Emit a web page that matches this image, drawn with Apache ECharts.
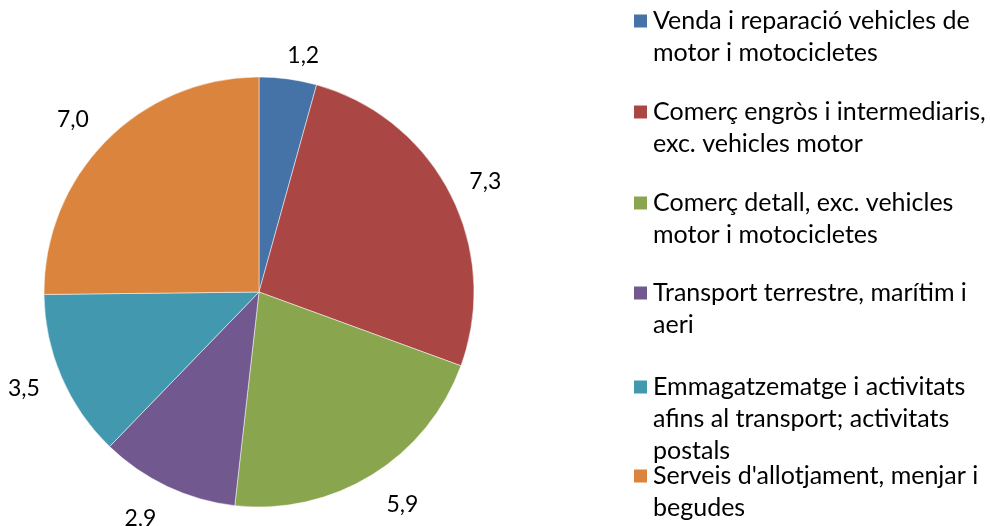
<!DOCTYPE html>
<html>
<head>
<meta charset="utf-8">
<script src="https://cdn.jsdelivr.net/npm/echarts@6/dist/echarts.min.js"></script>
<style>html,body{margin:0;padding:0;background:#fff;}#c{width:990px;height:526px;}</style>
</head>
<body>
<div id="c"></div>
<script>
const categories = [
  "Venda i reparació vehicles de motor i motocicletes",
  "Comerç engròs i intermediaris, exc. vehicles motor",
  "Comerç detall, exc. vehicles motor i motocicletes",
  "Transport terrestre, marítim i aeri",
  "Emmagatzematge i activitats afins al transport; activitats postals",
  "Serveis d'allotjament, menjar i begudes"
];
const legendLines = [
  ["Venda i reparació vehicles de", "motor i motocicletes"],
  ["Comerç engròs i intermediaris,", "exc. vehicles motor"],
  ["Comerç detall, exc. vehicles", "motor i motocicletes"],
  ["Transport terrestre, marítim i", "aeri"],
  ["Emmagatzematge i activitats", "afins al transport; activitats", "postals"],
  ["Serveis d'allotjament, menjar i", "begudes"]
];
const values = [1.2, 7.3, 5.9, 2.9, 3.5, 7.0];
const colors = ["#4572A7", "#AA4643", "#89A54E", "#71588F", "#4198AF", "#DB843D"];

const FONT = "Lato";
const LH = 32;
const legendTops = [4, 95, 186, 276, 370, 459];
const labelDist = [24, 26, 35, 35, 28, 30];

const legends = categories.map((name, i) => {
  const n = legendLines[i].length;
  const h = n * LH;
  return {
    orient: 'vertical',
    left: 632,
    top: legendTops[i],
    padding: 0,
    data: [name],
    itemWidth: 15,
    itemHeight: h,
    icon: 'path://M0,0h0.01v0.01h-0.01z M0,' + (h - 0.01) + 'h0.01v0.01h-0.01z M0,8.5h15v15h-15z',
    selectedMode: false,
    formatter: () => legendLines[i].join('\n'),
    textStyle: { fontFamily: FONT, fontSize: 25, color: '#000', lineHeight: LH }
  };
});

const chart = echarts.init(document.getElementById('c'), null, { renderer: 'canvas' });
chart.setOption({
  animation: false,
  backgroundColor: '#fff',
  color: colors,
  legend: legends,
  series: [{
    type: 'pie',
    center: [259, 292],
    radius: 215,
    startAngle: 90,
    clockwise: true,
    avoidLabelOverlap: false,
    data: categories.map((name, i) => ({
      name, value: values[i],
      labelLine: { length: labelDist[i] }
    })),
    itemStyle: { borderColor: '#fff', borderWidth: 0.5 },
    label: {
      show: true,
      position: 'outside',
      formatter: p => p.value.toFixed(1).replace('.', ','),
      fontFamily: FONT,
      fontSize: 23,
      color: '#000',
      distanceToLabelLine: -4
    },
    labelLine: { show: false, length: 26, length2: 0 },
    emphasis: { disabled: true }
  }]
});
</script>
</body>
</html>
